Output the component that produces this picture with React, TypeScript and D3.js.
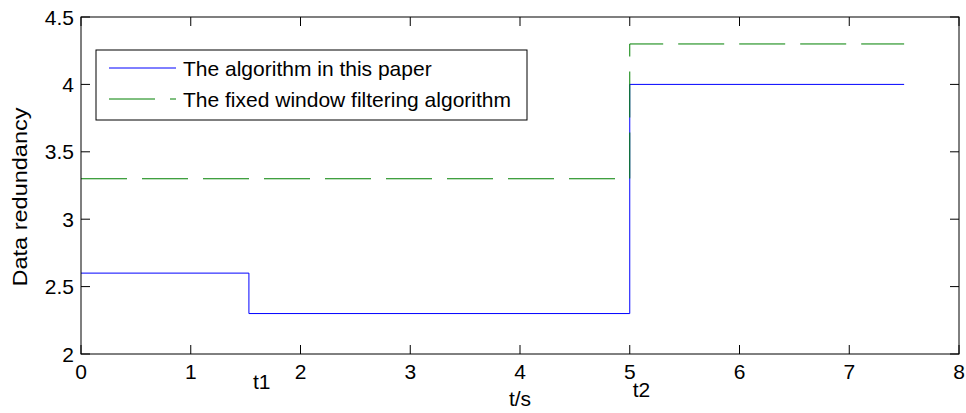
import React from "react";
import * as d3 from "d3";

// step series
const blueTimes = [0, 1.53, 5, 7.5];
const blueValues = [2.6, 2.3, 4.0, 4.0];
const greenTimes = [0, 5, 7.5];
const greenValues = [3.3, 4.3, 4.3];

const xTicks = [0, 1, 2, 3, 4, 5, 6, 7, 8];
const yTicks = [2, 2.5, 3, 3.5, 4, 4.5];
const legendLabels = ["The algorithm in this paper", "The fixed window filtering algorithm"];
const marks = [
  { label: "t1", t: 1.53 },
  { label: "t2", t: 5 },
];

const W = 966;
const H = 413;
const margin = { left: 81, right: 7, top: 17, bottom: 59 };
const font = "'Liberation Sans', Arial, sans-serif";
const fs = 21;

export default function App() {
  const x = d3.scaleLinear().domain([0, 8]).range([margin.left, W - margin.right]);
  const y = d3.scaleLinear().domain([2, 4.5]).range([H - margin.bottom, margin.top]);

  const line = d3
    .line<[number, number]>()
    .x((d) => x(d[0]))
    .y((d) => y(d[1]))
    .curve(d3.curveStepAfter);

  const blue = line(blueTimes.map((t, i) => [t, blueValues[i]]));
  const green = line(greenTimes.map((t, i) => [t, greenValues[i]]));

  const x0 = x(0), x1 = x(8), y0 = y(2), y1 = y(4.5);
  const tick = 9;

  // legend box
  const lg = { x: 96, y: 50, w: 431, h: 70 };

  return (
    <svg
      width={W}
      height={H}
      style={{ position: "absolute", left: 0, top: 0, background: "#fff" }}
      fontFamily={font}
    >
      <rect x={0} y={0} width={W} height={H} fill="#fff" />

      {/* data */}
      <path d={blue || ""} fill="none" stroke="#0000ff" strokeWidth={1} />
      <path d={green || ""} fill="none" stroke="#008000" strokeWidth={1} strokeDasharray="46,15" />

      {/* ticks on all sides */}
      {xTicks.map((t) => (
        <g key={"xt" + t}>
          <line x1={x(t)} x2={x(t)} y1={y0} y2={y0 - tick} stroke="#000" />
          <line x1={x(t)} x2={x(t)} y1={y1} y2={y1 + tick} stroke="#000" />
          <text x={x(t)} y={379} fontSize={fs} textAnchor="middle" fill="#000">
            {t}
          </text>
        </g>
      ))}
      {yTicks.map((t) => (
        <g key={"yt" + t}>
          <line x1={x0} x2={x0 + tick} y1={y(t)} y2={y(t)} stroke="#000" />
          <line x1={x1} x2={x1 - tick} y1={y(t)} y2={y(t)} stroke="#000" />
          <text x={74} y={y(t)} dy="0.36em" fontSize={fs} textAnchor="end" fill="#000">
            {t}
          </text>
        </g>
      ))}

      {/* axes box */}
      <rect x={x0} y={y1} width={x1 - x0} height={y0 - y1} fill="none" stroke="#000" strokeWidth={1} />

      {/* axis labels */}
      <text x={520} y={406} fontSize={fs} textAnchor="middle" fill="#000">
        t/s
      </text>
      <text
        transform={`translate(27, 197) rotate(-90)`}
        fontSize={fs}
        textAnchor="middle"
        textLength={179}
        lengthAdjust="spacingAndGlyphs"
        fill="#000"
      >
        Data redundancy
      </text>

      {/* t1 / t2 annotations */}
      <text x={x(marks[0].t) + 4} y={389} fontSize={fs} fill="#000">
        {marks[0].label}
      </text>
      <text x={x(marks[1].t) + 3} y={397} fontSize={fs} fill="#000">
        {marks[1].label}
      </text>

      {/* legend */}
      <rect x={lg.x} y={lg.y} width={lg.w} height={lg.h} fill="#fff" stroke="#000" strokeWidth={1} />
      <line x1={109} x2={176} y1={68} y2={68} stroke="#0000ff" />
      <line x1={109} x2={176} y1={99} y2={99} stroke="#008000" strokeDasharray="46,15" />
      <text x={183} y={76} fontSize={fs} fill="#000">
        {legendLabels[0]}
      </text>
      <text x={183} y={107} fontSize={fs} fill="#000">
        {legendLabels[1]}
      </text>
    </svg>
  );
}
